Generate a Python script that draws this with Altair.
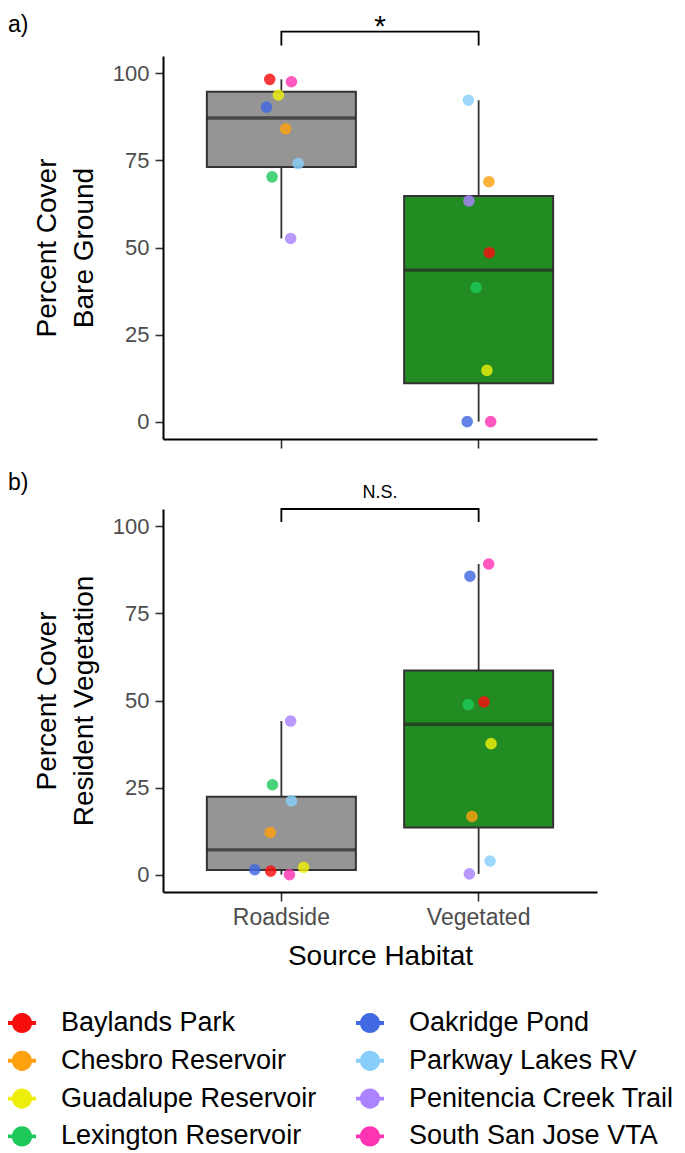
import altair as alt
import pandas as pd

FONT = "Liberation Sans"

sites = ["Baylands Park", "Chesbro Reservoir", "Guadalupe Reservoir", "Lexington Reservoir",
         "Oakridge Pond", "Parkway Lakes RV", "Penitencia Creek Trail", "South San Jose VTA"]
site_colors = ["#F80D0D", "#FFA10F", "#EEEE0A", "#1DC95B", "#4169E1", "#87CEFA", "#AB82FF", "#FF34B3"]
habitats = ["Roadside", "Vegetated"]
habitat_fill = ["#959595", "#228B22"]

# values in site order
bare_roadside = [98.3, 84.1, 93.8, 70.3, 90.3, 74.1, 52.6, 97.6]
bare_vegetated = [48.5, 68.9, 14.7, 38.5, 0.0, 92.3, 63.4, 0.0]
resid_roadside = [1.0, 12.1, 2.1, 25.8, 1.4, 21.2, 44.1, 0.0]
resid_vegetated = [49.6, 16.7, 37.6, 48.8, 85.7, 3.9, 0.2, 89.2]

# horizontal jitter of each point, in category widths
jit_bare_roadside = [-0.059, 0.022, -0.015, -0.047, -0.075, 0.085, 0.047, 0.051]
jit_bare_vegetated = [0.054, 0.052, 0.042, -0.013, -0.058, -0.052, -0.049, 0.061]
jit_resid_roadside = [-0.054, -0.056, 0.113, -0.045, -0.135, 0.051, 0.047, 0.041]
jit_resid_vegetated = [0.027, -0.034, 0.063, -0.053, -0.044, 0.058, -0.047, 0.051]

y_ticks = [0, 25, 50, 75, 100]
y_domain = [-5, 105]

# significance brackets
bracket_x = ["Roadside", "Roadside", "Vegetated", "Vegetated"]
bracket_a = [108.0, 112.0, 112.0, 108.0]
bracket_b = [101.3, 105.0, 105.0, 101.3]
sig_a = ("*", 110.7)
sig_b = ("N.S.", 108.3)

KEY_PATH = ("M -1 -0.14 L 1 -0.14 L 1 0.14 L -1 0.14 Z "
            "M 0 -0.72 A 0.72 0.72 0 1 1 0 0.72 A 0.72 0.72 0 1 1 0 -0.72 Z")


def long_df(road, veg, jr, jv):
    rows = []
    for s, v, j in zip(sites, road, jr):
        rows.append({"habitat": "Roadside", "site": s, "value": v, "jitter": j})
    for s, v, j in zip(sites, veg, jv):
        rows.append({"habitat": "Vegetated", "site": s, "value": v, "jitter": j})
    return pd.DataFrame(rows)


def panel(df, ytitle, tag, tag_y, sig, bracket_y, show_x):
    xscale = alt.Scale(domain=habitats, paddingInner=0, paddingOuter=0.1)
    if show_x:
        xaxis = alt.Axis(title="Source Habitat", labelAngle=0)
    else:
        xaxis = alt.Axis(title=None, labels=False)
    x = alt.X("habitat:N", scale=xscale, axis=xaxis)
    y = alt.Y("value:Q", scale=alt.Scale(domain=y_domain, nice=False, zero=False),
              axis=alt.Axis(values=y_ticks, title=ytitle))
    xoff = alt.XOffset("jitter:Q", scale=alt.Scale(domain=[-0.5, 0.5]))

    base = alt.Chart(df)
    layers = []
    for h, f in zip(habitats, habitat_fill):
        layers.append(
            base.transform_filter(alt.datum.habitat == h).mark_boxplot(
                size=149, extent=1.5, outliers=False, ticks=False, color=f,
                box={"fill": f, "stroke": "#333333", "strokeWidth": 2},
                median={"color": "#262626", "thickness": 3.4},
                rule={"color": "#333333", "strokeWidth": 1.8},
            ).encode(x=x, y=y)
        )
    points = base.mark_circle(size=135, opacity=0.82).encode(
        x=x, xOffset=xoff, y=y,
        color=alt.Color("site:N", scale=alt.Scale(domain=sites, range=site_colors),
                        legend=alt.Legend(title=None, orient="none", legendX=-155, legendY=953,
                                          columns=2)),
    )
    layers.append(points)

    bdf = pd.DataFrame({"habitat": bracket_x, "value": bracket_y, "step": [0, 1, 2, 3]})
    bracket = alt.Chart(bdf).mark_line(color="black", strokeWidth=1.8, clip=False).encode(
        x=x, y=y, order="step:Q")
    layers.append(bracket)

    sdf = pd.DataFrame({"habitat": ["Roadside"], "value": [sig[1]], "jitter": [0.5], "t": [sig[0]]})
    sig_text = alt.Chart(sdf).mark_text(
        fontSize=30 if sig[0] == "*" else 18, baseline="alphabetic", align="center", color="black"
    ).encode(x=x, xOffset=xoff, y=y, text="t:N")
    layers.append(sig_text)

    tdf = pd.DataFrame({"t": [tag]})
    tag_text = alt.Chart(tdf).mark_text(fontSize=23, align="left", baseline="alphabetic", color="black").encode(
        x=alt.value(-155), y=alt.value(tag_y), text="t:N")
    layers.append(tag_text)

    return alt.layer(*layers).properties(width=434, height=383)


top = panel(long_df(bare_roadside, bare_vegetated, jit_bare_roadside, jit_bare_vegetated),
            ["Percent Cover", "Bare Ground"], "a)", -24.5, sig_a, bracket_a, False)
bottom = panel(long_df(resid_roadside, resid_vegetated, jit_resid_roadside, jit_resid_vegetated),
               ["Percent Cover", "Resident Vegetation"], "b)", -19, sig_b, bracket_b, True)

chart = alt.vconcat(top, bottom, spacing=23).properties(
    padding={"left": 0, "top": 4, "right": 0, "bottom": 0}
).configure(font=FONT).configure_view(strokeWidth=0).configure_axis(
    domainColor="black", domainWidth=2, tickColor="#333333", tickWidth=1.6, grid=False,
    labelFont=FONT, titleFont=FONT, titleFontWeight="normal", titleColor="black",
    labelColor="#4D4D4D",
).configure_axisX(
    labelFontSize=23, titleFontSize=28, tickSize=9, labelPadding=5, titlePadding=13,
).configure_axisY(
    labelFontSize=22, titleFontSize=28, tickSize=8, labelPadding=6, titlePadding=14,
    titleLineHeight=37,
).configure_legend(
    labelFont=FONT, labelFontSize=27, labelColor="black", labelLimit=500,
    symbolSize=784, symbolType=KEY_PATH, symbolOpacity=1, symbolStrokeWidth=0,
    rowPadding=10.8, columnPadding=39, labelOffset=25, padding=0,
)

chart.save("out.html", embed_options={"renderer": "svg", "actions": False})
